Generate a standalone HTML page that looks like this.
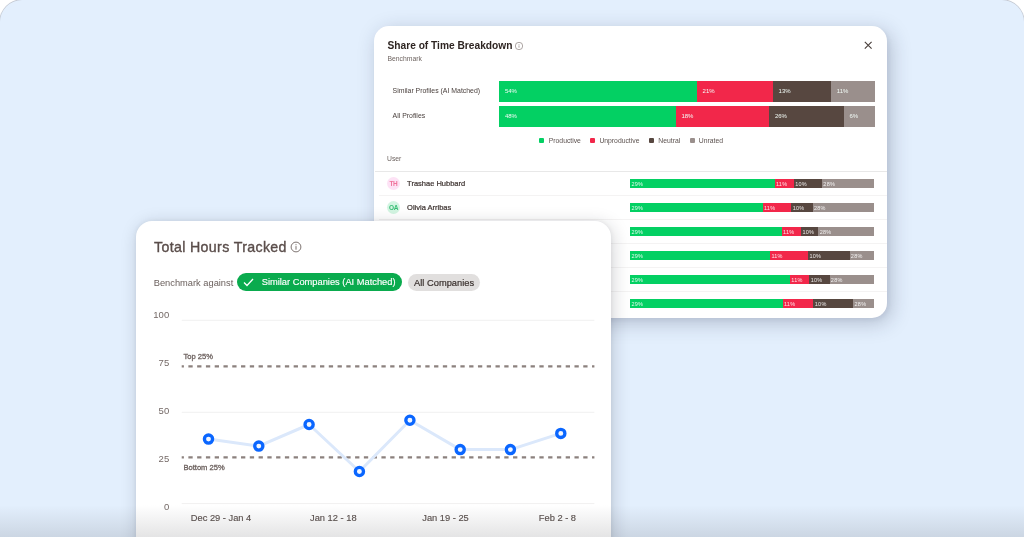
<!DOCTYPE html>
<html><head><meta charset="utf-8">
<style>
*{box-sizing:border-box;margin:0;padding:0}
html,body{width:1024px;height:537px;overflow:hidden;background:#fff;font-family:"Liberation Sans",Arial,sans-serif}
.bg{position:absolute;left:0;top:0;width:1024px;height:560px;background:#e3effd;border-radius:22px 22px 0 0;box-shadow:0 0 0 .7px rgba(120,130,150,.45)}
.card{position:absolute;background:#fff;overflow:hidden}
#rc{left:374.2px;top:26px;width:513.1px;height:291.8px;border-radius:15px;box-shadow:4px 5px 20px rgba(35,45,70,.25),2px 2px 4px rgba(35,45,70,.05)}
#lc{left:136px;top:221px;width:475px;height:340px;border-radius:16px;box-shadow:2px 3px 18px rgba(20,25,40,.18),0 0 5px rgba(20,25,40,.07)}
.a{position:absolute;white-space:nowrap}
.t1{left:12.5px;top:14px;font-size:10.2px;font-weight:bold;color:#2e2522}
.sub{left:12.5px;top:28.5px;font-size:6.8px;color:#6e6461}
.bl{font-size:6.92px;color:#4a403d}
.bar{position:absolute;display:flex;height:20.9px}
.bar div{height:100%;color:#f2fbf6;font-size:6px;line-height:20.9px;padding-left:5.5px}
.g{background:#03d063}.r{background:#f2274a}.d{background:#574740}.y{background:#9a8f8c}
.leg{font-size:6.8px;color:#5d5350}
.sq{position:absolute;width:5.2px;height:5.3px;border-radius:1px}
.row{position:absolute;left:4px;right:0;height:1px;background:#f4f3f3}
.av{position:absolute;width:13px;height:13px;border-radius:50%;font-size:6.5px;text-align:center;line-height:14.6px;letter-spacing:-.3px;font-weight:bold}
.nm{font-size:7.5px;color:#3d3330;-webkit-text-stroke:.2px #3d3330}
.rb{position:absolute;display:flex;height:8.7px;left:255.1px;width:244.2px}
.rb div{height:100%;color:rgba(255,255,255,.88);font-size:5.5px;line-height:10.6px;padding-left:1.3px;letter-spacing:.25px}
.t2{left:18px;top:18px;font-size:14.2px;color:#5a4d4a;letter-spacing:.35px;-webkit-text-stroke:.35px #5a4d4a}
.bm{font-size:9.3px;color:#6b605d}
.pill{position:absolute;border-radius:9px;font-size:9.3px;line-height:17px;white-space:nowrap}
.yl{position:absolute;font-size:9.5px;color:#746966;text-align:right;width:30.2px;left:3px}
.xl{position:absolute;font-size:9.3px;color:#5d5350;-webkit-text-stroke:.15px #5d5350;white-space:nowrap;transform:translateX(-50%)}
.bz{font-size:7.6px;color:#6e6360;-webkit-text-stroke:.3px #6e6360}
.ov{position:absolute;left:0;top:505px;width:1024px;height:32px;background:linear-gradient(rgba(40,40,45,0),rgba(40,40,45,.125))}
</style></head><body>
<div class="bg"></div>

<div class="card" id="rc"><div style="position:absolute;left:.8px;top:0;width:512.3px;height:100%">
  <div class="a t1">Share of Time Breakdown</div>
  <svg class="a" style="left:139.9px;top:15.6px" width="8" height="8" viewBox="0 0 8 8"><circle cx="4" cy="4" r="3.7" fill="none" stroke="#8a807d" stroke-width=".7"/><rect x="3.65" y="3.4" width=".7" height="2.3" fill="#8a807d"/><rect x="3.65" y="2.2" width=".7" height=".7" fill="#8a807d"/></svg>
  <div class="a sub">Benchmark</div>
  <svg class="a" style="left:489.2px;top:15.4px" width="8" height="8" viewBox="0 0 8 8"><path d="M0.8 0.8L7.6 7.6M7.6 0.8L0.8 7.6" stroke="#4a403d" stroke-width="1.15"/></svg>

  <div class="a bl" style="left:17.6px;top:60.5px">Similar Profiles (AI Matched)</div>
  <div class="a bl" style="left:17.6px;top:86px">All Profiles</div>
  <div class="bar" style="left:124.4px;top:54.9px;width:375.5px">
    <div class="g" style="width:197.7px">54%</div><div class="r" style="width:76px">21%</div><div class="d" style="width:58.2px">13%</div><div class="y" style="flex:1">11%</div>
  </div>
  <div class="bar" style="left:124.4px;top:80.2px;width:375.5px">
    <div class="g" style="width:176.5px">48%</div><div class="r" style="width:93.5px">18%</div><div class="d" style="width:74.5px">26%</div><div class="y" style="flex:1">6%</div>
  </div>

  <div class="sq g" style="left:164.1px;top:111.8px"></div><div class="a leg" style="left:173.8px;top:110.5px">Productive</div>
  <div class="sq r" style="left:215px;top:111.8px"></div><div class="a leg" style="left:224.4px;top:110.5px">Unproductive</div>
  <div class="sq d" style="left:273.6px;top:111.8px"></div><div class="a leg" style="left:283.3px;top:110.5px">Neutral</div>
  <div class="sq y" style="left:314.8px;top:111.8px"></div><div class="a leg" style="left:323.8px;top:110.5px">Unrated</div>

  <div class="a leg" style="left:12px;top:129px;color:#6e6461">User</div>
  <div class="row" style="left:0;top:145px;background:#e8e8e8"></div>

  <div class="av" style="left:12px;top:151px;background:#fde2f5;color:#f0739b">TH</div>
  <div class="a nm" style="left:32.1px;top:153.3px">Trashae Hubbard</div>
  <div class="rb" style="top:153.1px"><div class="g" style="width:144.6px">29%</div><div class="r" style="width:19.2px">11%</div><div class="d" style="width:28.2px">10%</div><div class="y" style="flex:1">28%</div></div>
  <div class="row" style="top:169.0px"></div>

  <div class="av" style="left:12px;top:175px;background:#d3f5e2;color:#36bd74">OA</div>
  <div class="a nm" style="left:32.1px;top:177.3px">Olivia Arribas</div>
  <div class="rb" style="top:177.1px"><div class="g" style="width:132.6px">29%</div><div class="r" style="width:28.7px">11%</div><div class="d" style="width:21.3px">10%</div><div class="y" style="flex:1">28%</div></div>
  <div class="row" style="top:193.0px"></div>

  <div class="rb" style="top:201.1px"><div class="g" style="width:151.7px">29%</div><div class="r" style="width:19.4px">11%</div><div class="d" style="width:17.3px">10%</div><div class="y" style="flex:1">28%</div></div>
  <div class="row" style="top:217.0px"></div>
  <div class="rb" style="top:225.1px"><div class="g" style="width:140px">29%</div><div class="r" style="width:38.1px">11%</div><div class="d" style="width:41.4px">10%</div><div class="y" style="flex:1">28%</div></div>
  <div class="row" style="top:241.0px"></div>
  <div class="rb" style="top:249.1px"><div class="g" style="width:159.9px">29%</div><div class="r" style="width:19.4px">11%</div><div class="d" style="width:20.2px">10%</div><div class="y" style="flex:1">28%</div></div>
  <div class="row" style="top:265.0px"></div>
  <div class="rb" style="top:273.1px"><div class="g" style="width:152.6px">29%</div><div class="r" style="width:30.8px">11%</div><div class="d" style="width:39.8px">10%</div><div class="y" style="flex:1">28%</div></div>
</div></div>

<div class="card" id="lc">
  <div class="a t2">Total Hours Tracked</div>
  <svg class="a" style="left:154.3px;top:20.2px" width="12" height="12" viewBox="0 0 12 12"><circle cx="6" cy="6" r="4.9" fill="none" stroke="#7d7370" stroke-width="1"/><rect x="5.5" y="5.1" width="1" height="3.6" fill="#7d7370"/><rect x="5.5" y="3.2" width="1" height="1" fill="#7d7370"/></svg>
  <div class="a bm" style="left:17.7px;top:56.5px">Benchmark against</div>
  <div class="pill" style="left:100.5px;top:52.1px;width:165.4px;height:17.8px;background:#0aab4e;color:#fff;padding-left:25.2px;line-height:18.6px;-webkit-text-stroke:.15px #fff">Similar Companies (AI Matched)</div>
  <svg class="a" style="left:107.1px;top:56.8px" width="11" height="9" viewBox="0 0 11 9"><path d="M1 4.5L4 7.5L10 1" fill="none" stroke="#fff" stroke-width="1.3"/></svg>
  <div class="pill" style="left:272.1px;top:52.5px;width:71.5px;height:17.5px;line-height:18.5px;background:#e1dfde;color:#3a312e;padding-left:6px;-webkit-text-stroke:.2px #3a312e">All Companies</div>

  <div class="yl" style="top:87.6px">100</div>
  <div class="yl" style="top:135.5px">75</div>
  <div class="yl" style="top:184.1px">50</div>
  <div class="yl" style="top:232px">25</div>
  <div class="yl" style="top:280px">0</div>

  <svg class="a" style="left:0;top:0" width="475" height="340" viewBox="136 221 475 340">
    <g stroke="#f1f0f0" stroke-width="1">
      <line x1="181.7" y1="320.3" x2="594.4" y2="320.3"/>
      <line x1="181.7" y1="412.3" x2="594.4" y2="412.3"/>
      <line x1="181.7" y1="503.6" x2="594.4" y2="503.6"/>
    </g>
    <g stroke="#8c817e" stroke-width="2.2" stroke-dasharray="4.3 4.475" stroke-dashoffset="2.1">
      <line x1="181.7" y1="366.4" x2="594.4" y2="366.4"/>
      <line x1="181.7" y1="457.3" x2="594.4" y2="457.3"/>
    </g>
    <polyline points="208.5,439.1 258.8,446.1 309.1,424.5 359.4,471.5 409.9,420.2 460.2,449.6 510.4,449.6 560.8,433.4" fill="none" stroke="#dbe8fb" stroke-width="3" stroke-linejoin="round"/>
    <g fill="#f3f7ff" stroke="#0a66ff" stroke-width="3.3">
      <circle cx="208.5" cy="439.1" r="4.1"/><circle cx="258.8" cy="446.1" r="4.1"/><circle cx="309.1" cy="424.5" r="4.1"/><circle cx="359.4" cy="471.5" r="4.1"/>
      <circle cx="409.9" cy="420.2" r="4.1"/><circle cx="460.2" cy="449.6" r="4.1"/><circle cx="510.4" cy="449.6" r="4.1"/><circle cx="560.8" cy="433.4" r="4.1"/>
    </g>
  </svg>
  <div class="a bz" style="left:47.4px;top:131.4px">Top 25%</div>
  <div class="a bz" style="left:47.4px;top:241.5px">Bottom 25%</div>

  <div class="xl" style="left:85px;top:291.7px">Dec 29 - Jan 4</div>
  <div class="xl" style="left:197.3px;top:291.7px">Jan 12 - 18</div>
  <div class="xl" style="left:309.5px;top:291.7px">Jan 19 - 25</div>
  <div class="xl" style="left:421.4px;top:291.7px">Feb 2 - 8</div>
</div>

<div class="ov"></div>
</body></html>
